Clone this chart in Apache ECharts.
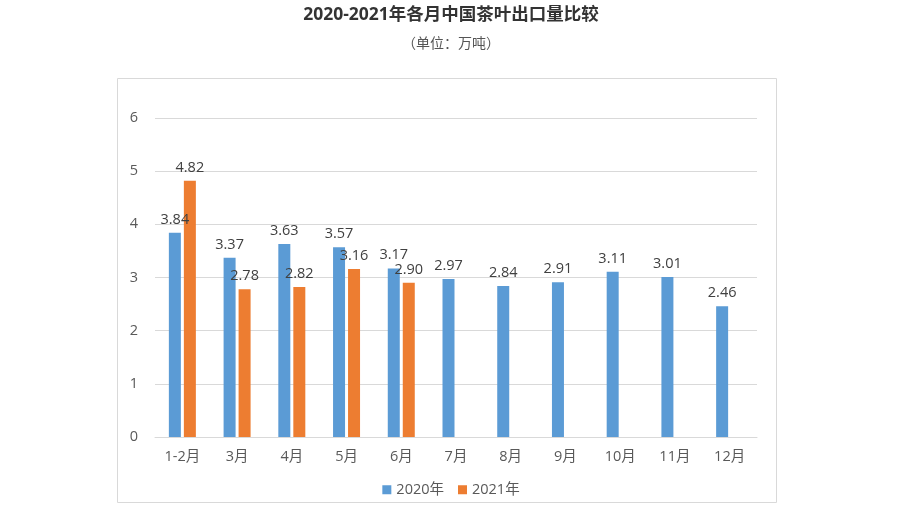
<!DOCTYPE html>
<html>
<head>
<meta charset="utf-8">
<script src="https://cdn.jsdelivr.net/npm/echarts@6/dist/echarts.min.js"></script>
<style>
  html, body { margin: 0; padding: 0; background: #fff; }
  #main { width: 902px; height: 507px; }
</style>
</head>
<body>
<div id="main"></div>
<script>
var months = ['1-2月', '3月', '4月', '5月', '6月', '7月', '8月', '9月', '10月', '11月', '12月'];
var export2020 = [3.84, 3.37, 3.63, 3.57, 3.17, 2.97, 2.84, 2.91, 3.11, 3.01, 2.46];
var export2021 = [4.82, 2.78, 2.82, 3.16, 2.90, null, null, null, null, null, null];
var yTicks = [0, 1, 2, 3, 4, 5, 6];

var myChart = echarts.init(document.getElementById('main'));
var fontFamily = "'Open Sans', 'Noto Sans CJK SC', sans-serif";

var option = {
    animation: false,
    textStyle: { fontFamily: fontFamily },
    title: [
        {
            text: '2020-2021年各月中国茶叶出口量比较',
            left: 'center',
            top: 1,
            textStyle: { fontSize: 17.5, fontWeight: 'bold', color: '#333', fontFamily: fontFamily }
        },
        {
            text: '（单位：万吨）',
            left: 'center',
            top: 32,
            textStyle: { fontSize: 14, fontWeight: 'normal', color: '#555', fontFamily: fontFamily }
        }
    ],
    graphic: [
        {
            type: 'rect',
            shape: { x: 117.5, y: 78.5, width: 659, height: 424 },
            style: { fill: 'none', stroke: '#d9d9d9', lineWidth: 1 },
            silent: true
        }
    ],
    legend: {
        bottom: 5,
        left: 'center',
        itemWidth: 9,
        itemHeight: 9,
        itemGap: 14,
        icon: 'rect',
        textStyle: { fontSize: 14.5, color: '#595959', fontFamily: fontFamily },
        data: ['2020年', '2021年']
    },
    grid: {
        left: 155,
        right: 145,
        top: 118,
        bottom: 70
    },
    xAxis: {
        type: 'category',
        data: months,
        axisLine: { lineStyle: { color: '#d9d9d9' } },
        axisTick: { show: false },
        axisLabel: { color: '#595959', fontSize: 14.5, margin: 13, fontFamily: fontFamily }
    },
    yAxis: {
        type: 'value',
        min: yTicks[0],
        max: yTicks[yTicks.length - 1],
        interval: 1,
        axisLine: { show: false },
        axisTick: { show: false },
        axisLabel: { color: '#595959', fontSize: 14.5, margin: 17, fontFamily: fontFamily },
        splitLine: { lineStyle: { color: '#d9d9d9' } }
    },
    series: [
        {
            name: '2020年',
            type: 'bar',
            data: export2020,
            barWidth: 12,
            barGap: '25%',
            itemStyle: { color: '#5B9BD5' },
            label: {
                show: true,
                position: 'top',
                distance: 6,
                color: '#404040',
                fontSize: 14.5,
                formatter: function (p) { return p.value.toFixed(2); }
            }
        },
        {
            name: '2021年',
            type: 'bar',
            data: export2021,
            barWidth: 12,
            itemStyle: { color: '#ED7D31' },
            label: {
                show: true,
                position: 'top',
                distance: 6,
                color: '#404040',
                fontSize: 14.5,
                formatter: function (p) { return p.value.toFixed(2); }
            }
        }
    ]
};

myChart.setOption(option);
</script>
</body>
</html>
